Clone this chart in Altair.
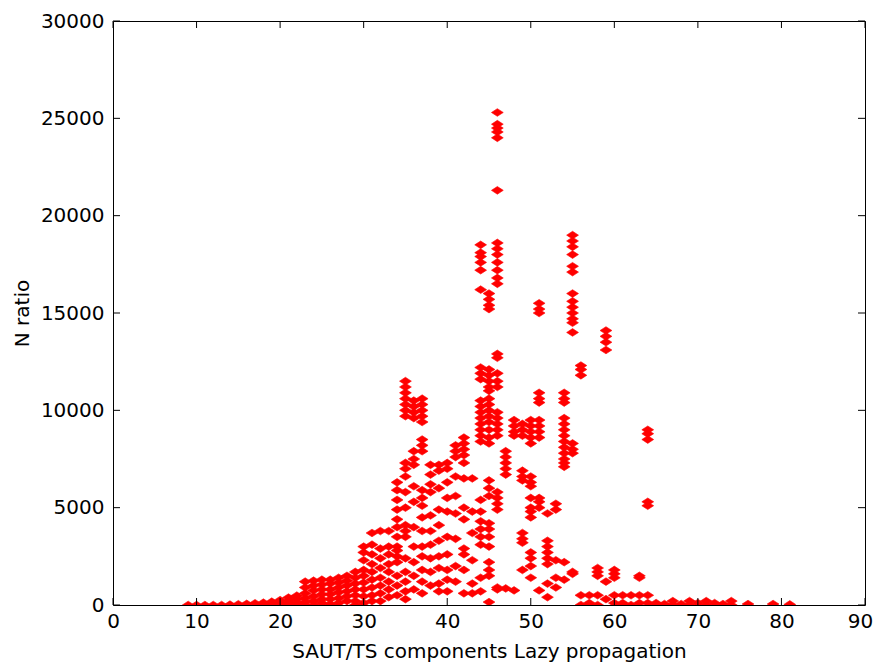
import altair as alt
import pandas as pd

# ---- data (x: component count, y: N ratio) ----
low_columns = {
    9: [0], 10: [0], 11: [0], 12: [0], 13: [0],
    14: [20], 15: [40], 16: [60], 17: [90],
    18: [120, 30], 19: [170, 60], 20: [250, 120, 20],
    21: [380, 200, 60], 22: [480, 300, 120, 0],
    23: [1200, 900, 600, 350, 150, 0],
    24: [1250, 1000, 750, 450, 200, 0],
    25: [1300, 1050, 800, 550, 300, 100],
    26: [1300, 1100, 800, 550, 300, 50],
    27: [1400, 1150, 900, 650, 350, 100],
    28: [1500, 1250, 1000, 700, 450, 200],
    29: [1700, 1400, 1100, 800, 500, 200, 0],
    30: [3000, 2700, 2300, 1800, 1500, 1150, 800, 450, 100],
    31: [3700, 3100, 2600, 2100, 1700, 1300, 900, 500, 200],
    32: [3800, 2900, 2400, 1900, 1400, 1000, 600, 200],
    33: [3800, 3000, 2600, 2100, 1700, 1200, 800, 400],
}

mid_columns = {
    34: [6300, 5900, 5400, 4900, 4400, 4000, 3500, 3000, 2800, 2500, 2200, 1500, 1000, 500],
    35: [11500, 11200, 10900, 10600, 10300, 10000, 9700, 7300, 7000, 6600, 5800, 5000,
         4100, 3800, 3500, 2400, 1700, 1200, 700, 300],
    36: [10500, 10200, 9900, 9600, 7900, 7500, 7200, 6100, 5300, 4000, 3000, 2200, 1500, 800],
    37: [10600, 10300, 10000, 9700, 9400, 8500, 8200, 7900, 5900, 5500, 5100, 4500, 3800,
         3000, 2500, 1800, 1200, 600],
    38: [7200, 6700, 6200, 5800, 4600, 3800, 3100, 2400, 1700, 1000],
    39: [7200, 6900, 6000, 4900, 4100, 3300, 2500, 1900, 1100, 700],
    40: [7300, 7000, 6300, 5500, 4800, 3500, 2600, 1800, 1300, 700],
    41: [8200, 7900, 7600, 6600, 5600, 4700, 3400, 2000, 1200],
    42: [8600, 8300, 8000, 7700, 7300, 6500, 5000, 4400, 2900, 2600, 1800, 600],
    43: [6500, 4800, 3700, 2300, 1100, 600],
    44: [18500, 18100, 17900, 17600, 17200, 16200, 12200, 11900, 11600, 10500, 10200, 9900,
         9600, 9300, 9000, 8700, 8400, 5400, 4800, 4300, 3900, 3500, 3100, 1400, 700],
    45: [16000, 15700, 15400, 15200, 12100, 11800, 11500, 11200, 11000, 10600, 10300, 10000,
         9700, 9400, 9000, 8600, 8300, 6400, 6000, 5600, 4200, 3900, 3500, 3000, 2200, 1800,
         1500, 150],
    46: [25300, 24700, 24500, 24300, 24000, 21300, 18600, 18300, 18000, 17600, 17200, 16800,
         16500, 12900, 12700, 11900, 11500, 11200, 9900, 9600, 9300, 9000, 8700, 5800, 5500,
         5200, 4900, 900, 800],
}

high_columns = {
    47: [7900, 7600, 7300, 7000, 6700, 850],
    48: [9500, 9200, 8900, 8700, 750],
    49: [9300, 9000, 8700, 6900, 6600, 6400, 3700, 3400, 3200, 1800],
    50: [9500, 9200, 8900, 8600, 8300, 6600, 6300, 6100, 5500, 5000, 4800, 4500, 2700, 2400,
         2000, 1400],
    51: [15500, 15200, 15000, 10900, 10600, 10400, 9500, 9200, 8900, 8600, 5500, 5300, 5000, 750],
    52: [4700, 3300, 3000, 2700, 2400, 2100, 1100, 400],
    53: [5200, 4900, 2300, 1400, 900],
    54: [10900, 10600, 10400, 9600, 9300, 9000, 8700, 8400, 8100, 7800, 7500, 7300, 7100,
         2200, 1300],
    55: [19000, 18700, 18400, 18000, 17400, 17100, 16000, 15600, 15300, 15000, 14700, 14500,
         14000, 8300, 8000, 7800, 1700, 1600],
    56: [12300, 12100, 11800, 500, 0],
    57: [500, 100, 0],
    58: [1900, 1700, 1500, 500, 0],
    59: [14100, 13800, 13500, 13100, 1200, 300],
    60: [1800, 1600, 1400, 500, 100],
    61: [500, 100, 0],
    62: [500, 0],
    63: [1500, 1400, 500, 100],
    64: [9000, 8800, 8500, 5300, 5100, 500, 100],
    65: [100, 0], 66: [50], 67: [200, 0], 68: [50], 69: [200, 0], 70: [100],
    71: [200, 0], 72: [100], 73: [50], 74: [200, 0], 76: [50], 79: [50], 81: [30],
}

x_ticks = [0, 10, 20, 30, 40, 50, 60, 70, 80, 90]
y_ticks = [0, 5000, 10000, 15000, 20000, 25000, 30000]

x_title = "SAUT/TS components Lazy propagation"
y_title = "N ratio"

# ---- build table ----
xs, ys = [], []
for group in (low_columns, mid_columns, high_columns):
    for cx, vals in group.items():
        for v in vals:
            xs.append(cx)
            ys.append(v)
df = pd.DataFrame({"x": xs, "y": ys})

W, H = 752, 584
TL = 7  # tick length (inward)
FONT = "DejaVu Sans"

x_scale = alt.Scale(domain=[0, 90], nice=False, zero=False)
y_scale = alt.Scale(domain=[0, 30000], nice=False, zero=False)

x_axis = alt.Axis(values=x_ticks, title=x_title, ticks=False, domain=False,
                  grid=False, labelPadding=6, titlePadding=10, labelFlush=False,
                  format="d",
                  labelOffset={"condition": {"test": "datum.value >= 90", "value": -5},
                               "value": 0})
y_axis = alt.Axis(values=y_ticks, title=y_title, ticks=False, domain=False,
                  grid=False, labelPadding=9, titlePadding=8, labelFlush=False,
                  format="d")

points = alt.Chart(df).mark_point(
    shape="M-1,0L0,-0.65L1,0L0,0.65Z",
    filled=True,
    color="#ff0000",
    stroke="#ff0000",
    strokeWidth=0.6,
    size=140,
    opacity=1,
    clip=True,
).encode(
    x=alt.X("x:Q", scale=x_scale, axis=x_axis),
    y=alt.Y("y:Q", scale=y_scale, axis=y_axis),
)

xt = pd.DataFrame({"x": x_ticks})
yt = pd.DataFrame({"y": y_ticks})

bottom_ticks = alt.Chart(xt).mark_rule(color="black", strokeWidth=1).encode(
    x=alt.X("x:Q", scale=x_scale, axis=x_axis), y=alt.value(H), y2=alt.value(H - TL))
top_ticks = alt.Chart(xt).mark_rule(color="black", strokeWidth=1).encode(
    x=alt.X("x:Q", scale=x_scale, axis=x_axis), y=alt.value(0), y2=alt.value(TL))
left_ticks = alt.Chart(yt).mark_rule(color="black", strokeWidth=1).encode(
    y=alt.Y("y:Q", scale=y_scale, axis=y_axis), x=alt.value(0), x2=alt.value(TL))
right_ticks = alt.Chart(yt).mark_rule(color="black", strokeWidth=1).encode(
    y=alt.Y("y:Q", scale=y_scale, axis=y_axis), x=alt.value(W), x2=alt.value(W - TL))

chart = alt.layer(points, bottom_ticks, top_ticks, left_ticks, right_ticks).properties(
    width=W,
    height=H,
    autosize=alt.AutoSizeParams(type="none"),
    padding={"left": 105, "top": 13, "right": 8, "bottom": 58},
    background="white",
).configure_view(
    stroke="black", strokeWidth=1
).configure_axis(
    labelFont=FONT, labelFontSize=20, labelColor="#000000",
    titleFont=FONT, titleFontSize=20, titleColor="#000000", titleFontWeight="normal",
)

chart.save("out.html", embed_options={"renderer": "svg", "actions": False})
